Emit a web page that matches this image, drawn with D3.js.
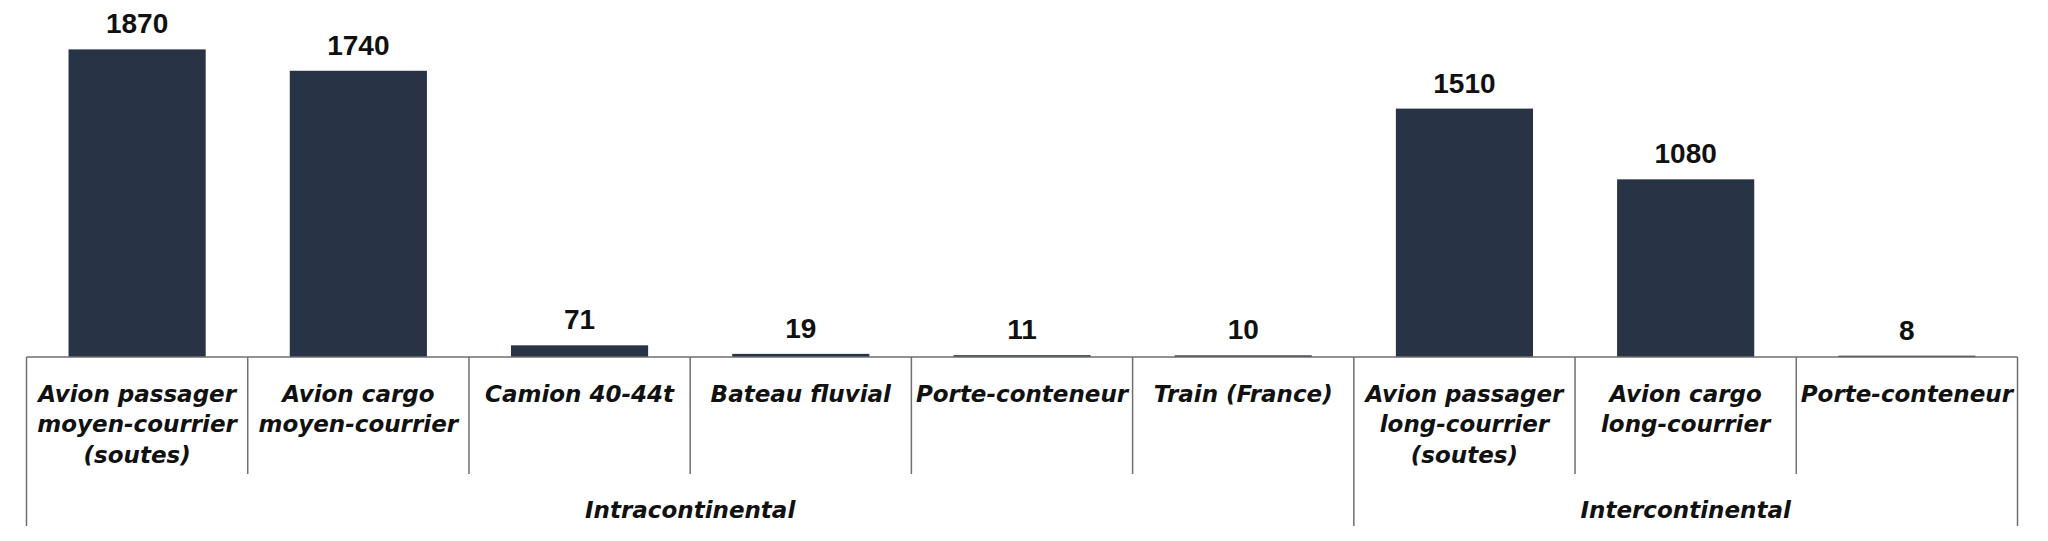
<!DOCTYPE html>
<html lang="fr">
<head>
<meta charset="UTF-8">
<title>Emissions par mode de transport</title>
<script src="https://d3js.org/d3.v7.min.js"></script>
<style>
  html, body { margin: 0; padding: 0; background: #ffffff; }
  svg { display: block; }
  .value { font-family: "Liberation Sans", Arial, sans-serif; font-weight: bold; font-size: 28px; fill: #111; }
  .cat { font-family: "DejaVu Sans", sans-serif; font-weight: bold; font-style: italic; font-size: 23px; fill: #111; }
</style>
</head>
<body>
<svg id="chart"></svg>
<script>
// categories (one entry per bar, lines of the label)
const categories = [
  "Avion passager\nmoyen-courrier\n(soutes)",
  "Avion cargo\nmoyen-courrier",
  "Camion 40-44t",
  "Bateau fluvial",
  "Porte-conteneur",
  "Train (France)",
  "Avion passager\nlong-courrier\n(soutes)",
  "Avion cargo\nlong-courrier",
  "Porte-conteneur"
];
const values = [1870, 1740, 71, 19, 11, 10, 1510, 1080, 8];
const groups = ["Intracontinental", "Intercontinental"];
const groupSizes = [6, 3];

const width = 2048, height = 541;
const svg = d3.select("#chart").attr("width", width).attr("height", height);

const left = 26.5, right = 2017.5, base = 357;
const ids = categories.map((c, i) => i);

const x = d3.scaleBand()
  .domain(ids)
  .range([left, right])
  .paddingInner(0.38)
  .paddingOuter(0.19);

const y = d3.scaleLinear()
  .domain([0, 2000])
  .range([base, base - 329]);

const step = x.step();
const gridColor = "#6f6f6f";

// bars
svg.selectAll("rect.bar")
  .data(values)
  .join("rect")
  .attr("class", "bar")
  .attr("x", (d, i) => x(i))
  .attr("width", x.bandwidth())
  .attr("y", d => y(d))
  .attr("height", d => y(0) - y(d))
  .attr("fill", "#283346");

// value labels
svg.selectAll("text.value")
  .data(values)
  .join("text")
  .attr("class", "value")
  .attr("x", (d, i) => x(i) + x.bandwidth() / 2)
  .attr("y", d => y(d) - 16)
  .attr("text-anchor", "middle")
  .text(d => d);

// baseline
svg.append("line")
  .attr("x1", left).attr("x2", right)
  .attr("y1", base).attr("y2", base)
  .attr("stroke", gridColor).attr("stroke-width", 1.5);

// separators: long ones at group edges
const groupEdges = [0];
groupSizes.forEach(n => groupEdges.push(groupEdges[groupEdges.length - 1] + n));

d3.range(categories.length + 1).forEach(i => {
  const xx = left + i * step;
  svg.append("line")
    .attr("x1", xx).attr("x2", xx)
    .attr("y1", base)
    .attr("y2", groupEdges.includes(i) ? 526 : 474)
    .attr("stroke", gridColor).attr("stroke-width", 1.5);
});

// category labels
const catText = svg.selectAll("text.cat-label")
  .data(categories)
  .join("text")
  .attr("class", "cat cat-label")
  .attr("text-anchor", "middle");

catText.each(function(d, i) {
  const t = d3.select(this);
  d.split("\n").forEach((line, k) => {
    t.append("tspan")
      .attr("x", x(i) + x.bandwidth() / 2)
      .attr("y", 401.5 + k * 30.5)
      .text(line);
  });
});

// group labels
svg.selectAll("text.group")
  .data(groups)
  .join("text")
  .attr("class", "cat group")
  .attr("text-anchor", "middle")
  .attr("x", (d, i) => left + (groupEdges[i] + groupEdges[i + 1]) / 2 * step)
  .attr("y", 517.5)
  .text(d => d);
</script>
</body>
</html>
